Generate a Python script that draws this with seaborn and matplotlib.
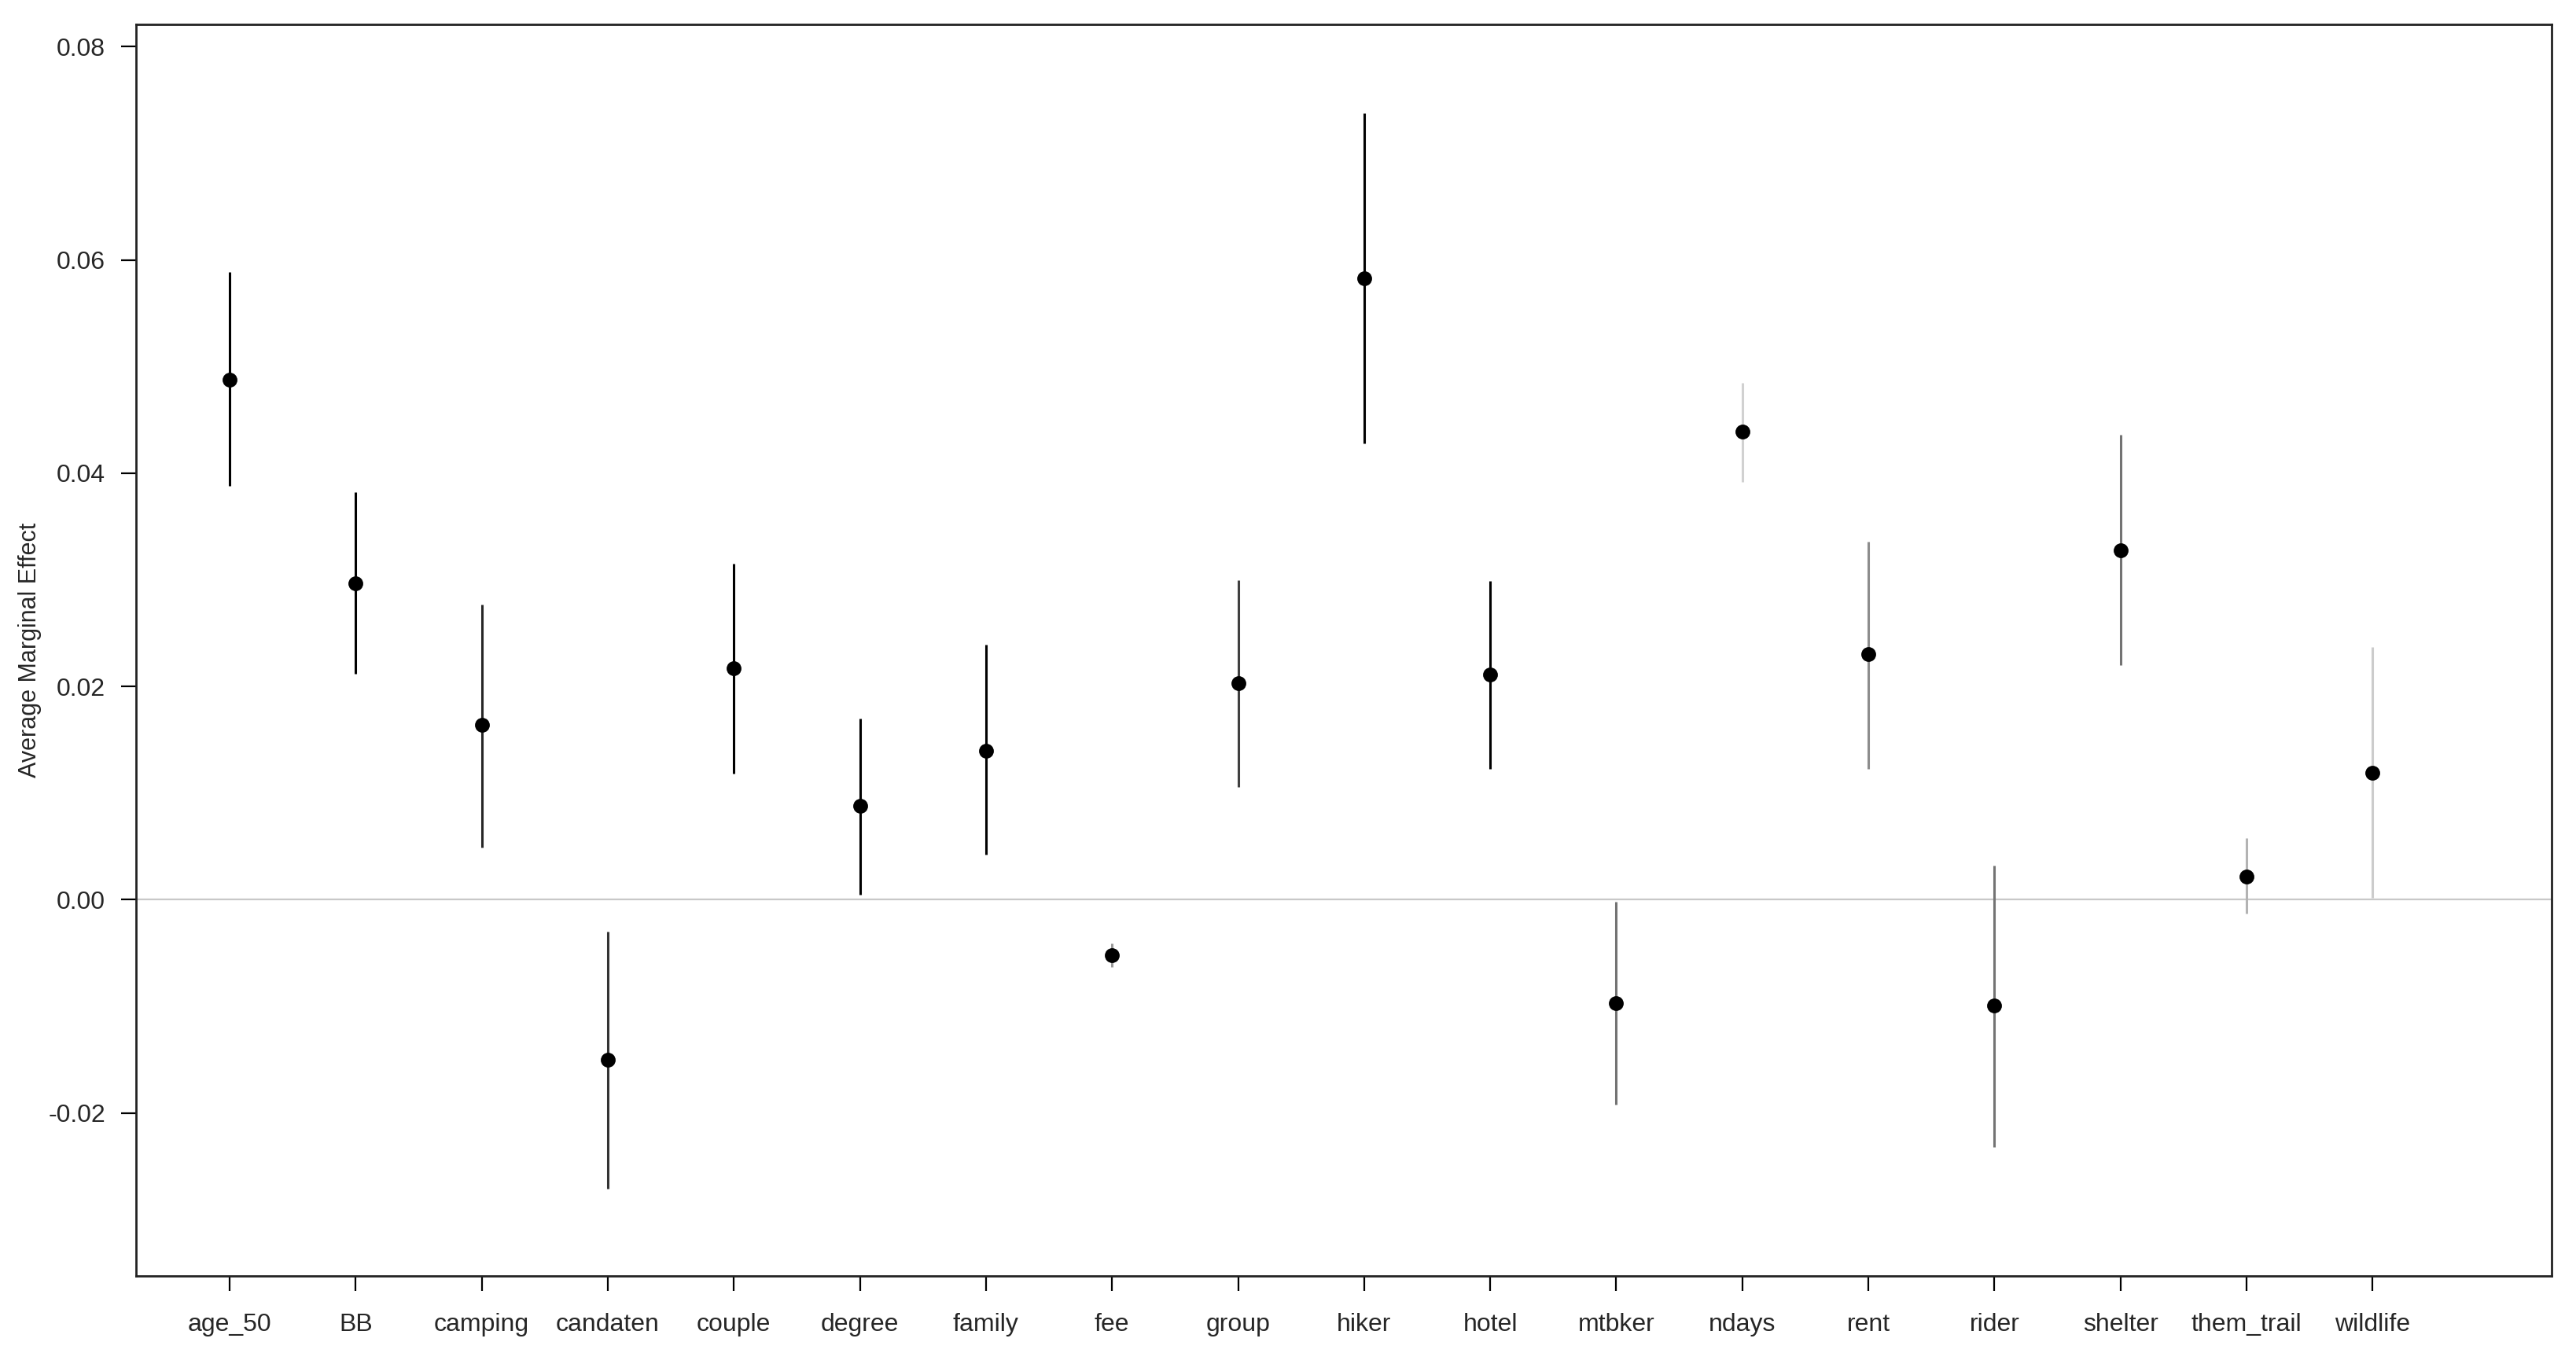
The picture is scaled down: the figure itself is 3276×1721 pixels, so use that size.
import numpy as np
import pandas as pd
import seaborn as sns
import matplotlib.pyplot as plt

# average marginal effects with lower / upper bounds
terms = ['age_50', 'BB', 'camping', 'candaten', 'couple', 'degree', 'family', 'fee', 'group',
         'hiker', 'hotel', 'mtbker', 'ndays', 'rent', 'rider', 'shelter', 'them_trail', 'wildlife']
ame = [0.0488, 0.0297, 0.0164, -0.0150, 0.0217, 0.0088, 0.0140, -0.0052, 0.0203,
       0.0583, 0.0211, -0.0097, 0.0439, 0.0230, -0.0099, 0.0328, 0.0022, 0.0119]
lower = [0.0388, 0.0212, 0.0049, -0.0271, 0.0118, 0.0005, 0.0042, -0.0063, 0.0106,
         0.0428, 0.0123, -0.0192, 0.0392, 0.0123, -0.0232, 0.0220, -0.0013, 0.0002]
upper = [0.0589, 0.0382, 0.0277, -0.0030, 0.0315, 0.0170, 0.0239, -0.0041, 0.0300,
         0.0738, 0.0299, -0.0002, 0.0485, 0.0336, 0.0032, 0.0436, 0.0058, 0.0237]
# grey level of each interval line (0 = black)
shade = [0.0, 0.0, 0.15, 0.2, 0.0, 0.0, 0.0, 0.6, 0.25,
         0.0, 0.0, 0.45, 0.82, 0.55, 0.45, 0.45, 0.7, 0.8]

df = pd.DataFrame({'term': terms, 'ame': ame, 'lower': lower, 'upper': upper, 'shade': shade})
df['pos'] = np.arange(len(df))

sns.set_style('white')
plt.rcParams['font.family'] = ['Liberation Sans', 'DejaVu Sans']
plt.rcParams['axes.unicode_minus'] = False

fig = plt.figure(figsize=(16.38, 8.605), dpi=200)
ax = fig.add_axes([0.0528, 0.0569, 0.9377, 0.9251])

ax.axhline(0, color='#c8c8c8', lw=0.8, zorder=1)
ax.vlines(df['pos'], df['lower'], df['upper'],
          colors=[str(s) for s in df['shade']], lw=1.1, zorder=2)
sns.scatterplot(data=df, x='pos', y='ame', color='black', s=46, edgecolor='black',
                linewidth=0, legend=False, ax=ax, zorder=3)

ax.set_xlim(-0.743, 18.42)
ax.set_ylim(-0.0353, 0.0821)
ax.set_xticks(df['pos'])
ax.set_xticklabels(df['term'])
yt = [-0.02, 0.0, 0.02, 0.04, 0.06, 0.08]
ax.set_yticks(yt)
ax.set_yticklabels(['%.2f' % v for v in yt])
ax.tick_params(axis='both', labelsize=11.5, length=7, width=0.8, color='black',
               bottom=True, left=True, direction='out')
ax.tick_params(axis='x', pad=10)
ax.tick_params(axis='y', pad=7)

for sp in ax.spines.values():
    sp.set_visible(True)
    sp.set_color('#222222')
    sp.set_linewidth(1.0)

ax.set_xlabel('')
ax.set_ylabel('Average Marginal Effect', fontsize=11)
ax.yaxis.set_label_coords(-0.039, 0.5)

fig.savefig('out.png', dpi=200, facecolor='white')
